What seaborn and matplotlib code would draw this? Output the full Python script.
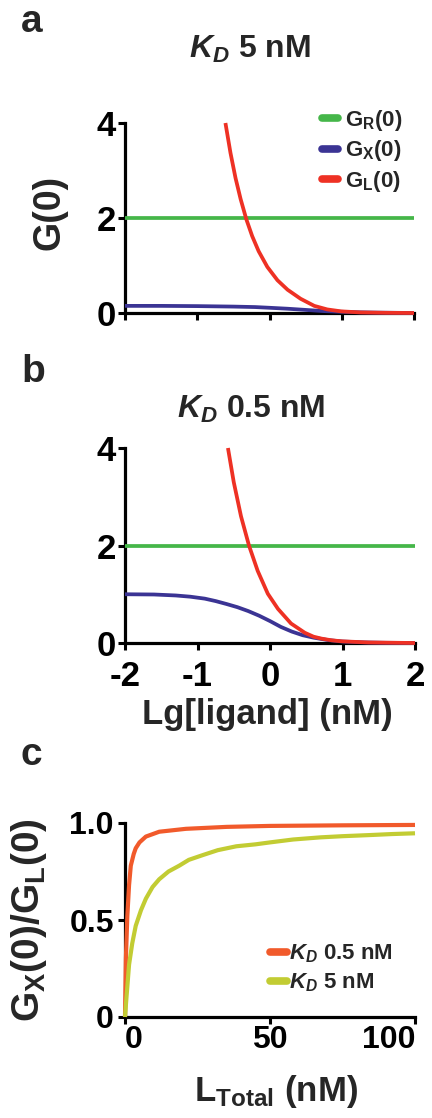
import matplotlib
matplotlib.use("Agg")
import matplotlib.pyplot as plt
import pandas as pd
import seaborn as sns

# ---- panel a: K_D 5 nM, G(0) vs log10 ligand (nM) ----
a_gr_x = [-2.0, 2.0]
a_gr_y = [2.0, 2.0]
a_gx_x = [-2.0, -1.5, -1.0, -0.5, -0.2, 0.0, 0.25, 0.5, 0.75, 1.0, 1.25, 1.5, 2.0]
a_gx_y = [0.15, 0.15, 0.145, 0.135, 0.125, 0.11, 0.09, 0.065, 0.04, 0.025, 0.014, 0.008, 0.0]
a_gl_x = [-0.61, -0.54, -0.47, -0.40, -0.32, -0.24, -0.15, -0.03, 0.11, 0.25, 0.43, 0.62,
          0.80, 0.99, 1.26, 1.6, 2.0]
a_gl_y = [4.0, 3.37, 2.84, 2.40, 1.97, 1.62, 1.30, 0.97, 0.69, 0.49, 0.30, 0.15,
          0.075, 0.035, 0.012, 0.004, 0.0]

# ---- panel b: K_D 0.5 nM ----
b_gr_x = [-2.0, 2.0]
b_gr_y = [2.0, 2.0]
b_gx_x = [-2.0, -1.6, -1.3, -1.1, -0.9, -0.75, -0.6, -0.45, -0.3, -0.15, 0.0, 0.15, 0.3,
          0.45, 0.6, 0.8, 1.0, 1.3, 1.6, 2.0]
b_gx_y = [1.0, 0.995, 0.975, 0.95, 0.91, 0.86, 0.80, 0.735, 0.655, 0.56, 0.45, 0.33, 0.235,
          0.16, 0.11, 0.06, 0.03, 0.012, 0.004, 0.0]
b_gl_x = [-0.58, -0.50, -0.40, -0.29, -0.17, -0.03, 0.11, 0.29, 0.48, 0.60, 0.71, 0.85,
          0.99, 1.36, 2.0]
b_gl_y = [4.0, 3.30, 2.60, 2.0, 1.48, 1.01, 0.70, 0.40, 0.21, 0.13, 0.09, 0.055,
          0.035, 0.011, 0.0]

# ---- panel c: G_X(0)/G_L(0) vs total ligand (nM) ----
c_kd05_x = [0, 0.3, 0.8, 1.4, 2.0, 3.0, 3.7, 5.0, 7.2, 11.8, 21, 35, 50, 75, 100]
c_kd05_y = [0, 0.30, 0.52, 0.68, 0.78, 0.84, 0.87, 0.90, 0.93, 0.955, 0.97, 0.98, 0.985,
            0.988, 0.99]
c_kd5_x = [0, 0.5, 1.4, 2.5, 3.7, 5.5, 7.2, 9.5, 11.8, 15, 18.7, 22, 26.9, 32, 38.4, 45,
           50, 58, 67.4, 75, 84.7, 92, 100]
c_kd5_y = [0, 0.10, 0.27, 0.38, 0.47, 0.55, 0.61, 0.67, 0.71, 0.75, 0.78, 0.81, 0.835,
           0.86, 0.88, 0.89, 0.90, 0.915, 0.926, 0.932, 0.938, 0.943, 0.947]

lg_ticks = [-2, -1, 0, 1, 2]
g_ticks = [0, 2, 4]
ltot_ticks = [0, 50, 100]
ratio_ticks = [0, 0.5, 1.0]
ratio_ticklabels = ["0", "0.5", "1.0"]

GREEN = "#45b649"
BLUE = "#3b3494"
RED = "#ee3124"
ORANGE = "#f15a2b"
OLIVE = "#c2cc33"

sns.set_theme(style="ticks")
plt.rcParams["font.family"] = ["Liberation Sans", "DejaVu Sans"]
plt.rcParams["font.weight"] = "bold"
plt.rcParams["mathtext.fontset"] = "custom"
plt.rcParams["mathtext.rm"] = "Liberation Sans:bold"
plt.rcParams["mathtext.it"] = "Liberation Sans:italic:bold"
plt.rcParams["mathtext.bf"] = "Liberation Sans:bold"
plt.rcParams["axes.unicode_minus"] = False

W, H = 432, 1118
fig = plt.figure(figsize=(W / 100, H / 100), dpi=100)


def axes_px(left, top, right, bottom):
    return fig.add_axes([left / W, 1 - bottom / H, (right - left) / W, (bottom - top) / H])


ax_a = axes_px(125, 123, 414, 313)
ax_b = axes_px(125, 448, 415, 643)
ax_c = axes_px(125, 823, 415, 1017)


def curve(ax, xs, ys, color, label=None, lw=2.7):
    df = pd.DataFrame({"x": xs, "y": ys})
    sns.lineplot(data=df, x="x", y="y", ax=ax, color=color, lw=lw, label=label,
                 sort=False, clip_on=False, zorder=3, solid_capstyle="butt")


curve(ax_a, a_gr_x, a_gr_y, GREEN, r"$\mathregular{G_R(0)}$")
curve(ax_a, a_gx_x, a_gx_y, BLUE, r"$\mathregular{G_X(0)}$")
curve(ax_a, a_gl_x, a_gl_y, RED, r"$\mathregular{G_L(0)}$")

curve(ax_b, b_gr_x, b_gr_y, GREEN)
curve(ax_b, b_gx_x, b_gx_y, BLUE)
curve(ax_b, b_gl_x, b_gl_y, RED)

curve(ax_c, c_kd05_x, c_kd05_y, ORANGE, r"$K_D$ 0.5 nM", lw=3.0)
curve(ax_c, c_kd5_x, c_kd5_y, OLIVE, r"$K_D$ 5 nM", lw=3.0)

for ax in (ax_a, ax_b, ax_c):
    sns.despine(ax=ax)
    for side in ("left", "bottom"):
        ax.spines[side].set_linewidth(2.3)
        ax.spines[side].set_color("black")
    ax.tick_params(direction="out", length=5, width=2.2, color="black",
                   labelsize=23, labelcolor="black")
    ax.set_xlabel("")
    ax.set_ylabel("")

for ax in (ax_a, ax_b):
    ax.set_xlim(-2, 2)
    ax.set_ylim(0, 4)
    ax.set_xticks(lg_ticks)
    ax.set_yticks(g_ticks)
    ax.set_yticklabels([str(t) for t in g_ticks], fontweight="bold", fontsize=25)
    ax.tick_params(axis="y", pad=1.5)

ax_a.set_xticklabels([])
ax_b.set_xticklabels([str(t) for t in lg_ticks], fontweight="bold", fontsize=25)
ax_b.tick_params(axis="x", pad=7)

ax_c.set_xlim(0, 100)
ax_c.set_ylim(0, 1.0)
ax_c.set_xticks(ltot_ticks)
ax_c.set_xticklabels([str(t) for t in ltot_ticks], fontweight="bold")
ax_c.get_xticklabels()[0].set_ha("left")
ax_c.get_xticklabels()[-1].set_ha("right")
ax_c.set_yticks(ratio_ticks)
ax_c.set_yticklabels(ratio_ticklabels, fontweight="bold")
ax_c.tick_params(axis="x", pad=1)
ax_c.tick_params(axis="y", pad=3)

# axis labels
ax_a.set_ylabel("G(0)", fontsize=27, fontweight="bold", va="center")
ax_a.yaxis.set_label_coords(-0.26, 0.53)
ax_b.set_xlabel("Lg[ligand] (nM)", fontsize=25, fontweight="bold", va="top")
ax_b.xaxis.set_label_coords(0.49, -0.28)
ax_c.set_xlabel(r"$\mathregular{L_{Total}}$ (nM)", fontsize=25, fontweight="bold", va="top")
ax_c.xaxis.set_label_coords(0.52, -0.29)
ax_c.set_ylabel(r"$\mathregular{G_X(0)/G_L(0)}$", fontsize=28, fontweight="bold", va="center")
ax_c.yaxis.set_label_coords(-0.33, 0.5)

# legends
def style_legend(leg):
    for h in leg.get_lines():
        h.set_linewidth(5.5)
        h.set_solid_capstyle("round")


leg_a = ax_a.legend(loc="upper left", bbox_to_anchor=(0.68, 1.08), frameon=False,
                    fontsize=16, handlelength=0.75, handletextpad=0.3,
                    labelspacing=0.25, borderpad=0, borderaxespad=0)
style_legend(leg_a)
leg_c = ax_c.legend(loc="upper left", bbox_to_anchor=(0.5, 0.385), frameon=False,
                    fontsize=16, handlelength=0.75, handletextpad=0.1,
                    labelspacing=0.3, borderpad=0, borderaxespad=0)
style_legend(leg_c)
for t in leg_a.get_texts() + leg_c.get_texts():
    t.set_fontweight("bold")

# panel letters and titles
def fig_text(x, y, s, size, ha="left"):
    fig.text(x / W, 1 - y / H, s, fontsize=size, fontweight="bold", ha=ha, va="baseline")


fig_text(21, 32, "a", 28)
fig_text(21, 382, "b", 28)
fig_text(21, 765, "c", 28)
fig_text(250, 58, r"$K_D$ 5 nM", 23, ha="center")
fig_text(251, 418, r"$K_D$ 0.5 nM", 23, ha="center")

fig.savefig("out.png", dpi=100, facecolor="white")
